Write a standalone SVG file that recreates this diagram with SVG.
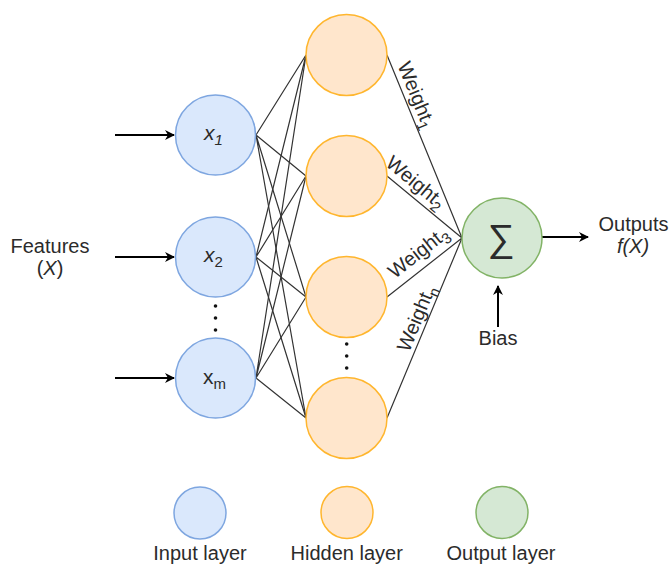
<svg xmlns="http://www.w3.org/2000/svg" width="670" height="564" viewBox="0 0 670 564">
<defs>
<style>
text{font-family:"Liberation Sans",Arial,sans-serif;fill:#2b2b2b;font-size:20px}
.in{fill:#dae8fc;stroke:#7ea6e0;stroke-width:1.5}
.hid{fill:#ffe6cc;stroke:#ffb62e;stroke-width:1.5}
.out{fill:#d5e8d4;stroke:#82b366;stroke-width:1.5}
.w{stroke:#333;stroke-width:1.2;fill:none}
.arr{stroke:#000;stroke-width:2;fill:none;marker-end:url(#ah)}
.dot{fill:#111}
.c{text-anchor:middle}
.wl{font-size:20px}
.nl{font-size:21px}
</style>
<marker id="ah" markerWidth="10" markerHeight="10" refX="9" refY="5" orient="auto" markerUnits="userSpaceOnUse">
<path d="M0,0 L10,5 L0,10 L3,5 Z" fill="#000"/>
</marker>
</defs>
<rect width="670" height="564" fill="#fff"/>
<g id="connectors">
<path class="w" d="M256,135 L306,55 M256,135 L306,176 M256,135 L306,297 M256,135 L306,418"/>
<path class="w" d="M256,257 L306,55 M256,257 L306,176 M256,257 L306,297 M256,257 L306,418"/>
<path class="w" d="M256,378 L306,55 M256,378 L306,176 M256,378 L306,297 M256,378 L306,418"/>
<path class="w" d="M387,55 L462,238 M387,176 L462,238 M387,297 L462,238 M387,418 L462,238"/>
<path class="arr" d="M115,135 L174,135"/>
<path class="arr" d="M115,257 L174,257"/>
<path class="arr" d="M115,378 L174,378"/>
<path class="arr" d="M542,237 L588,237"/>
<path class="arr" d="M498,327 L498,286"/>
</g>
<g id="weight-labels">
<text class="c wl" transform="translate(417,95) rotate(67.7)" dy="0.35em">Weight<tspan font-size="15" dy="5">1</tspan></text>
<text class="c wl" transform="translate(416,182) rotate(39.6)" dy="0.35em">Weight<tspan font-size="15" dy="5">2</tspan></text>
<text class="c wl" transform="translate(418,252) rotate(-38.2)" dy="0.35em">Weight<tspan font-size="15" dy="5">3</tspan></text>
<text class="c wl" transform="translate(416,318) rotate(-67.4)" dy="0.35em">Weight<tspan font-size="15" dy="5">n</tspan></text>
</g>
<g id="input-x1">
<circle class="in" cx="215.5" cy="135" r="40"/>
<text class="nl" x="204" y="140" font-style="italic">x<tspan font-size="15" dy="5">1</tspan></text>
</g>
<g id="input-x2">
<circle class="in" cx="215.5" cy="257" r="40"/>
<text class="nl" x="204" y="262"><tspan font-style="italic">x</tspan><tspan font-size="15" dy="5">2</tspan></text>
</g>
<g id="input-dots">
<circle class="dot" cx="215.5" cy="306" r="1.8"/>
<circle class="dot" cx="215.5" cy="318" r="1.8"/>
<circle class="dot" cx="215.5" cy="330" r="1.8"/>
</g>
<g id="input-xm">
<circle class="in" cx="215.5" cy="378" r="40"/>
<text class="nl" x="203" y="384">x<tspan font-size="15" dy="5">m</tspan></text>
</g>
<g id="hidden-1"><circle class="hid" cx="346.5" cy="55" r="40.5"/></g>
<g id="hidden-2"><circle class="hid" cx="346.5" cy="176" r="40.5"/></g>
<g id="hidden-3"><circle class="hid" cx="346.5" cy="297" r="40.5"/></g>
<g id="hidden-dots">
<circle class="dot" cx="346.7" cy="344" r="1.8"/>
<circle class="dot" cx="346.7" cy="356" r="1.8"/>
<circle class="dot" cx="346.7" cy="368" r="1.8"/>
</g>
<g id="hidden-4"><circle class="hid" cx="346.5" cy="418" r="40.5"/></g>
<g id="output-node">
<circle class="out" cx="502" cy="238" r="40"/>
<text class="c" x="501" y="251" style="font-size:38px">∑</text>
</g>
<g id="features-label">
<text class="c" x="50" y="253">Features</text>
<text class="c" x="50" y="275">(<tspan font-style="italic">X</tspan>)</text>
</g>
<g id="outputs-label">
<text class="c" x="633.5" y="231">Outputs</text>
<text class="c" x="633" y="253" font-style="italic">f(X)</text>
</g>
<g id="bias-label"><text class="c" x="498" y="345">Bias</text></g>
<g id="legend">
<circle class="in" cx="200" cy="513" r="26"/>
<circle class="hid" cx="347" cy="512.5" r="26"/>
<circle class="out" cx="502" cy="512.5" r="26"/>
<text class="c" x="200" y="560">Input layer</text>
<text class="c" x="346.7" y="560">Hidden layer</text>
<text class="c" x="501" y="560">Output layer</text>
</g>
</svg>
